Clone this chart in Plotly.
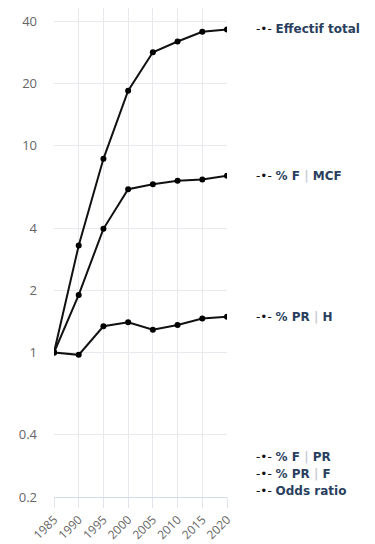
import math
import plotly.graph_objects as go

annees = [1985, 1990, 1995, 2000, 2005, 2010, 2015, 2020]

effectif_total = [1, 3.3, 8.66, 18.5, 28.4, 32.0, 35.7, 36.6]
pct_f_mcf = [1, 1.90, 3.97, 6.17, 6.53, 6.78, 6.88, 7.17]
pct_pr_h = [1, 0.975, 1.34, 1.40, 1.29, 1.36, 1.46, 1.49]

# séries tracées (avec données)
series = [
    ("Effectif total", effectif_total),
    ("% F | MCF", pct_f_mcf),
    ("% PR | H", pct_pr_h),
]
# séries sans données (étiquettes en bas à droite)
series_vides = ["% F | PR", "% PR | F", "Odds ratio"]

y_ticks = [0.2, 0.4, 1, 2, 4, 10, 20, 40]
y_tick_labels = ["0.2", "0.4", "1", "2", "4", "10", "20", "40"]

fig = go.Figure()

for nom, valeurs in series:
    fig.add_trace(go.Scatter(
        x = annees, y = valeurs, name = nom, mode = 'lines+markers',
        line = dict(color = '#111111', width = 2),
        marker = dict(color = '#000000', size = 6),
        showlegend = False,
    ))


def etiquette(nom):
    nom = nom.replace('|', "<span style='color:#c8ccd4'>|</span>")
    return "<span style='color:#111111'>-•-</span> <b>" + nom + "</b>"


# étiquettes à droite, à la hauteur de la dernière valeur
for nom, valeurs in series:
    fig.add_annotation(
        x = 1.155, xref = 'paper', y = math.log10(valeurs[-1]), yref = 'y',
        text = etiquette(nom), showarrow = False, xanchor = 'left', yanchor = 'middle',
        font = dict(family = 'DejaVu Sans', size = 12, color = '#2a3f5f'),
    )

for i, nom in enumerate(series_vides):
    fig.add_annotation(
        x = 1.155, xref = 'paper', y = 0.082 - i * 0.0347, yref = 'paper',
        text = etiquette(nom), showarrow = False, xanchor = 'left', yanchor = 'middle',
        font = dict(family = 'DejaVu Sans', size = 12, color = '#2a3f5f'),
    )

fig.update_layout(
    width = 367, height = 536,
    margin = dict(l = 46, r = 148, t = 0, b = 47),
    plot_bgcolor = 'white', paper_bgcolor = 'white',
    font = dict(family = 'Open Sans', size = 13, color = '#666666'),
)
fig.update_xaxes(
    range = [1985, 2020], tickvals = annees, tickangle = -45,
    showgrid = True, gridcolor = '#e8e9ee', gridwidth = 1,
    showline = True, linecolor = '#d4dcec', linewidth = 1,
    ticks = 'outside', ticklen = 10, tickcolor = '#e0e4ee',
    zeroline = False, tickfont = dict(size = 12), automargin = False,
)
fig.update_yaxes(
    type = 'log', range = [math.log10(0.2), math.log10(46.5)],
    tickvals = y_ticks, ticktext = y_tick_labels,
    showgrid = True, gridcolor = '#e8e9ee', gridwidth = 1,
    zeroline = False, ticklabelstandoff = 16, automargin = False,
)

fig.write_html("out.html")
